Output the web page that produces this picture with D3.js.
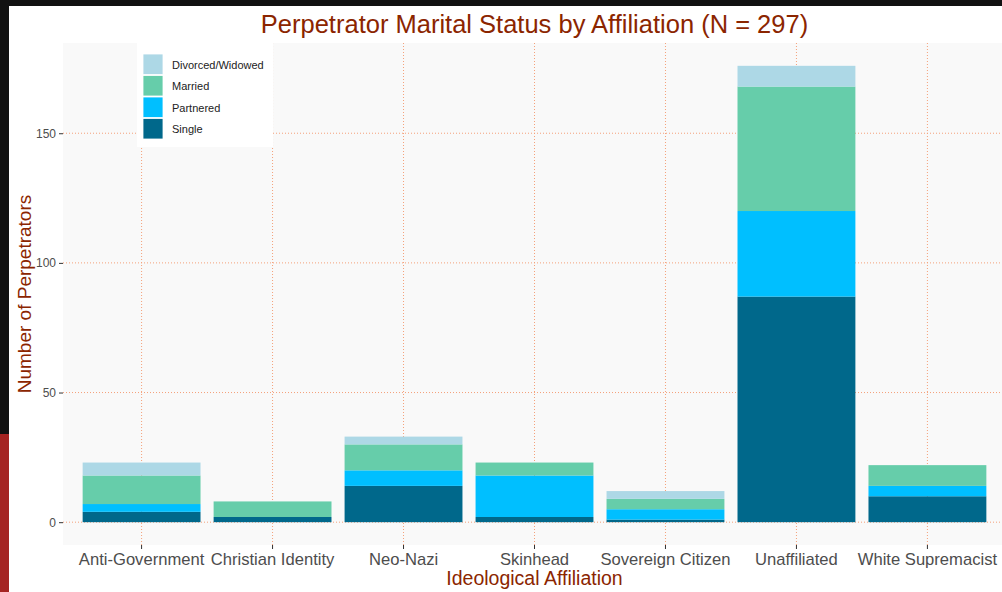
<!DOCTYPE html>
<html>
<head>
<meta charset="utf-8">
<script src="https://cdn.jsdelivr.net/npm/d3@7"></script>
<style>
  html, body { margin: 0; padding: 0; background: #fff; overflow: hidden; }
  text { font-family: "Liberation Sans", Arial, sans-serif; }
</style>
</head>
<body>
<div id="chart"></div>
<script>
// data
let categories = ["Anti-Government", "Christian Identity", "Neo-Nazi", "Skinhead", "Sovereign Citizen", "Unaffiliated", "White Supremacist"];
let single = [4, 2, 14, 2, 1, 87, 10];
let partnered = [3, 0, 6, 16, 4, 33, 4];
let married = [11, 6, 10, 5, 4, 48, 8];
let divorced = [5, 0, 3, 0, 3, 8, 0];
let statusKeys = ["Single", "Partnered", "Married", "Divorced/Widowed"];
let legendOrder = ["Divorced/Widowed", "Married", "Partnered", "Single"];
let yTicks = [0, 50, 100, 150];

let colors = {
    "Single": "#00688B",
    "Partnered": "#00BFFF",
    "Married": "#66CDAA",
    "Divorced/Widowed": "#ADD8E6"
};

let rows = categories.map((c, i) => ({
    cat: c,
    "Single": single[i],
    "Partnered": partnered[i],
    "Married": married[i],
    "Divorced/Widowed": divorced[i]
}));

let W = 1002, H = 592;
let panel = {left: 63, right: 1006, top: 43, bottom: 545};
let titleColor = "#8B2500";

let svg = d3.select("#chart")
    .append("svg")
    .attr("width", W)
    .attr("height", H);

// page frame
svg.append("rect").attr("x", 0).attr("y", 0).attr("width", W).attr("height", 6).attr("fill", "#111");
svg.append("rect").attr("x", 0).attr("y", 0).attr("width", 9).attr("height", 434).attr("fill", "#111");
svg.append("rect").attr("x", 0).attr("y", 434).attr("width", 9).attr("height", H - 434).attr("fill", "#A52422");

let stack = d3.stack().keys(statusKeys)(rows);
let maxTotal = d3.max(rows, (d) => d3.sum(statusKeys, (k) => d[k]));
let pad = maxTotal * 0.05;

let x = d3.scaleBand()
    .domain(categories)
    .range([panel.left, panel.right])
    .paddingInner(0.1)
    .paddingOuter(0.15);

let y = d3.scaleLinear()
    .domain([-pad, maxTotal + pad])
    .range([panel.bottom, panel.top]);

// panel background
svg.append("rect")
    .attr("x", panel.left)
    .attr("y", panel.top)
    .attr("width", panel.right - panel.left)
    .attr("height", panel.bottom - panel.top)
    .attr("fill", "#F9F9F9");

let grid = svg.append("g");
grid.selectAll("line.h")
    .data(yTicks)
    .enter()
    .append("line")
    .attr("x1", panel.left).attr("x2", panel.right)
    .attr("y1", (d) => y(d)).attr("y2", (d) => y(d))
    .attr("stroke", "#F4A17A")
    .attr("stroke-width", 1)
    .attr("stroke-dasharray", "1,2");
grid.selectAll("line.v")
    .data(categories)
    .enter()
    .append("line")
    .attr("x1", (d) => x(d) + x.bandwidth() / 2).attr("x2", (d) => x(d) + x.bandwidth() / 2)
    .attr("y1", panel.top).attr("y2", panel.bottom)
    .attr("stroke", "#F4A17A")
    .attr("stroke-width", 1)
    .attr("stroke-dasharray", "1,2");

// stacked bars
svg.append("g")
    .selectAll("g")
    .data(stack)
    .enter()
    .append("g")
    .attr("fill", (d) => colors[d.key])
    .selectAll("rect")
    .data((d) => d)
    .enter()
    .append("rect")
    .attr("x", (d) => x(d.data.cat))
    .attr("width", x.bandwidth())
    .attr("y", (d) => y(d[1]))
    .attr("height", (d) => y(d[0]) - y(d[1]));

// axes
let yAxis = svg.append("g")
    .attr("transform", "translate(" + panel.left + ",0)")
    .call(d3.axisLeft(y).tickValues(yTicks).tickSize(4).tickPadding(3));
yAxis.select(".domain").remove();
yAxis.selectAll("line").attr("stroke", "#333");
yAxis.selectAll("text").attr("fill", "#4D4D4D").style("font-size", "12px");

let xAxis = svg.append("g")
    .attr("transform", "translate(0," + panel.bottom + ")")
    .call(d3.axisBottom(x).tickSize(4).tickPadding(4));
xAxis.select(".domain").remove();
xAxis.selectAll("line").attr("stroke", "#333");
xAxis.selectAll("text").attr("fill", "#4D4D4D").style("font-size", "16.6px");

// titles
svg.append("text")
    .attr("x", (panel.left + panel.right) / 2)
    .attr("y", 33)
    .attr("text-anchor", "middle")
    .attr("fill", titleColor)
    .style("font-size", "25.5px")
    .text("Perpetrator Marital Status by Affiliation (N = 297)");

svg.append("text")
    .attr("x", (panel.left + panel.right) / 2)
    .attr("y", 585)
    .attr("text-anchor", "middle")
    .attr("fill", titleColor)
    .style("font-size", "19.5px")
    .text("Ideological Affiliation");

svg.append("text")
    .attr("transform", "translate(31," + ((panel.top + panel.bottom) / 2) + ") rotate(-90)")
    .attr("text-anchor", "middle")
    .attr("fill", titleColor)
    .style("font-size", "19px")
    .text("Number of Perpetrators");

// legend
let legend = svg.append("g").attr("transform", "translate(137,43)");
legend.append("rect")
    .attr("width", 136)
    .attr("height", 104)
    .attr("fill", "#fff");
legendOrder.forEach((k, i) => {
    legend.append("rect")
        .attr("x", 6)
        .attr("y", 11 + i * 21.5)
        .attr("width", 20)
        .attr("height", 20.5)
        .attr("fill", colors[k])
        .attr("stroke", "#fff")
        .attr("stroke-width", 0.8);
    legend.append("text")
        .attr("x", 35)
        .attr("y", 11 + i * 21.5 + 14.5)
        .attr("fill", "#222")
        .style("font-size", "11px")
        .text(k);
});
</script>
</body>
</html>
